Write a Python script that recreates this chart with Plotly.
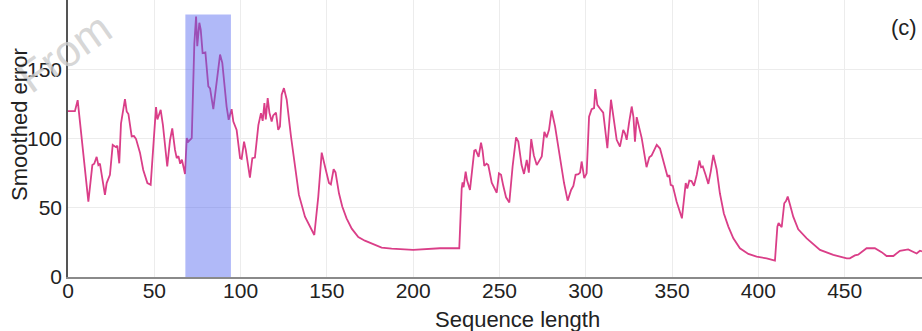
import plotly.graph_objects as go

seq_len = [
    0, 4, 5.6, 11.8, 14.1, 15.2, 16.6, 17.6, 18.5, 21.4, 22.4, 24.3, 25.9, 27.8, 28.6, 29.7,
    30.7, 32, 33, 34, 35, 36.9, 38.2, 39.4, 41.7, 43.6, 46, 47.9, 49.4, 51, 51.8, 53.7, 55,
    57.5, 59.1, 60.4, 62, 63, 64, 65, 66, 67.8, 68.8, 69.7, 71.7, 73.2, 74.2, 74.9, 76.1,
    76.9, 78, 79.6, 81.3, 82.3, 84.2, 85.6, 88.1, 89.4, 91.9, 93.1, 94.8, 95.8, 97.7,
    99.7, 100.6, 102, 103, 105.4, 106.8, 108.3, 110.3, 111.8, 112.8, 113.8, 114.6, 115.7,
    116.7, 118, 118.9, 120.5, 121.8, 122.8, 123.8, 125.1, 126.7, 129.2, 131.5, 133.8,
    137.3, 140.2, 142.7, 145, 147, 148.9, 151.2, 152.3, 153.9, 155, 157, 158.9, 161.4,
    164.4, 168.2, 172, 176.9, 181.7, 187.5, 200, 215.5, 226.7,
    228.1, 228.6, 229.2, 230.4, 231.2, 232.9, 235.4, 236.2, 237.9, 239.3, 240.2, 241.2,
    242.5, 243.5, 245.5, 247.4, 248.4, 249.7, 250.9, 252.2, 253.8, 255.7, 257.6, 259.6,
    260.9, 262.8, 264.2, 265.8, 267, 268.4, 269.9, 271.6, 273.5, 274.5, 276, 277.3, 278.7,
    280.2, 282.2, 285, 287.4, 289.5, 291.5, 292.8, 294.1, 295.7, 296.7, 297.6, 299.1,
    300.5, 301.9, 303.4, 304.8, 305.5, 306.7, 308.2, 310.1, 312.5, 314.6, 315.9, 317.9,
    319.8, 321.7, 322.7, 323.7, 325, 326.6, 327.6, 328.5, 329.5, 331, 332.4, 335.2, 336.8,
    338.1, 341.1, 343, 344.5, 346.5, 347.4, 348.4, 349.2, 350.4, 352.6, 355.7, 357.9,
    358.8, 360, 361.3, 362.7, 364.3, 365.8, 366.8, 367.8, 369.4, 371, 372.4, 373.9, 375.8,
    377.7, 380, 382.6, 385.5, 389.3, 394.2, 399, 404.8, 409.6,
    411, 411.7, 413.5, 415, 416, 417, 418.3, 420.2, 423.1, 428, 435.7, 443.4, 451.2, 453,
    455.9, 457.8, 462.7, 467.5, 471.4, 474.3, 478.2, 482, 486.8, 489.7, 491.7, 493.6, 494.8,
]

smoothed_error = [
    120, 120, 128, 54.6, 81, 82, 87, 81, 82, 59.4, 68, 74, 95.6, 94, 95, 82.3,
    111, 121, 128.7, 119.8, 118, 101.7, 102, 100, 90, 77.5, 68, 66.7, 92, 123, 114, 121, 110,
    80, 99, 107.5, 92, 86, 87.5, 82, 85, 74.6, 100.5, 98, 100.5, 169, 188.6, 167, 184,
    179, 162, 162.5, 138, 136.5, 121.5, 135.5, 161, 155, 123.4, 113.8, 121.5, 112.5, 106.5,
    86, 85.5, 98, 92, 72, 86, 86.5, 110, 118.6, 113, 125.8, 114, 129.5,
    119, 112.5, 117, 119, 106.5, 109, 132, 136.7, 128.5, 101.7, 80, 59.4,
    43.7, 36.5, 30.4, 58, 90, 80, 68, 67, 78, 75.7, 60.6, 51, 42.5,
    35, 29, 26.3, 24, 21.3, 20.5, 19.6, 20.8, 20.8,
    64, 68.5, 65, 76.3, 70, 63, 91.5, 92, 87, 97.3, 91.5, 80.4,
    82, 81, 68.3, 64, 61, 75, 74, 66, 57.7, 54, 80, 101,
    98, 81, 74.6, 84.8, 75.5, 99.8, 88, 81, 84.6, 87.3, 105, 101, 106.5,
    120.5, 109, 87, 68, 55.3, 63, 66, 74, 74.5, 75.6, 83.6, 71.5,
    75, 116, 121.5, 122.3, 136, 124.6, 122, 119, 93.2, 128.3, 117, 99.3,
    94.4, 106.5, 104, 99.3, 111, 123.4, 116, 98, 115.7, 107, 100.5, 79.5, 86.7,
    87.9, 95.6, 93, 86, 75, 72.5, 73.8, 66.7, 66, 54.6, 42.5, 68,
    64, 69.8, 69.5, 66, 74, 84.3, 79.5, 80, 74, 67.4, 76.3, 88.4, 78,
    60.6, 46, 36.5, 28, 20.8, 16.7, 14.7, 13.5, 11.8,
    36.5, 39, 36, 53.4, 55, 58.2, 52.5, 43.7, 34.5, 28, 19.6, 16, 13.5, 13.5,
    15.6, 16.2, 20.8, 20.8, 18, 15.2, 15.2, 19, 20, 18.4, 17, 19, 18.5,
]

highlight_x = [68, 94.4]
highlight_top = 190

x_ticks = [0, 50, 100, 150, 200, 250, 300, 350, 400, 450]
y_ticks = [0, 50, 100, 150]

font = "Liberation Sans, Arial, sans-serif"

fig = go.Figure()
fig.add_trace(go.Scatter(
    x=seq_len, y=smoothed_error, mode="lines",
    line=dict(color="rgb(218,62,136)", width=1.8),
    showlegend=False, hoverinfo="skip",
))

fig.add_shape(type="rect", xref="x", yref="y",
              x0=highlight_x[0], x1=highlight_x[1], y0=0, y1=highlight_top,
              fillcolor="rgba(80,100,240,0.45)", line=dict(width=0), layer="above")

# faint watermark
fig.add_annotation(text="From", xref="paper", yref="paper", x=0, y=0.81,
                   xanchor="center", yanchor="middle", xshift=-4,
                   showarrow=False, textangle=-35,
                   font=dict(family=font, size=44, color="rgba(205,205,205,0.8)"))
# panel label
fig.add_annotation(text="(c)", xref="paper", yref="paper", x=0.996, y=0.90,
                   xanchor="right", yanchor="middle", showarrow=False,
                   font=dict(family=font, size=22, color="#222"))
# axis titles
fig.add_annotation(text="Sequence length", xref="paper", yref="paper", x=0.526, y=0,
                   xanchor="center", yanchor="middle", yshift=-42, showarrow=False,
                   font=dict(family=font, size=22, color="#222"))
fig.add_annotation(text="Smoothed error", xref="paper", yref="paper", x=0, y=0.549,
                   xanchor="center", yanchor="middle", xshift=-48, textangle=-90,
                   showarrow=False, font=dict(family=font, size=22, color="#222"))

fig.update_layout(
    width=922, height=331,
    margin=dict(l=68, r=0, t=0, b=54),
    paper_bgcolor="white", plot_bgcolor="white",
    font=dict(family=font, size=21, color="#222"),
    xaxis=dict(range=[0, 494.8], tickvals=x_ticks, showgrid=True, gridcolor="#ececec",
               gridwidth=1, zeroline=False, showline=True, linecolor="#8a8a8a", linewidth=2,
               ticks="", ticklabelstandoff=-6, tickfont=dict(size=21)),
    yaxis=dict(range=[0, 200.5], tickvals=y_ticks, showgrid=True, gridcolor="#ececec",
               gridwidth=1, zeroline=False, showline=True, linecolor="#555", linewidth=1.5,
               ticks="", tickfont=dict(size=21)),
)

fig.write_html("out.html")
